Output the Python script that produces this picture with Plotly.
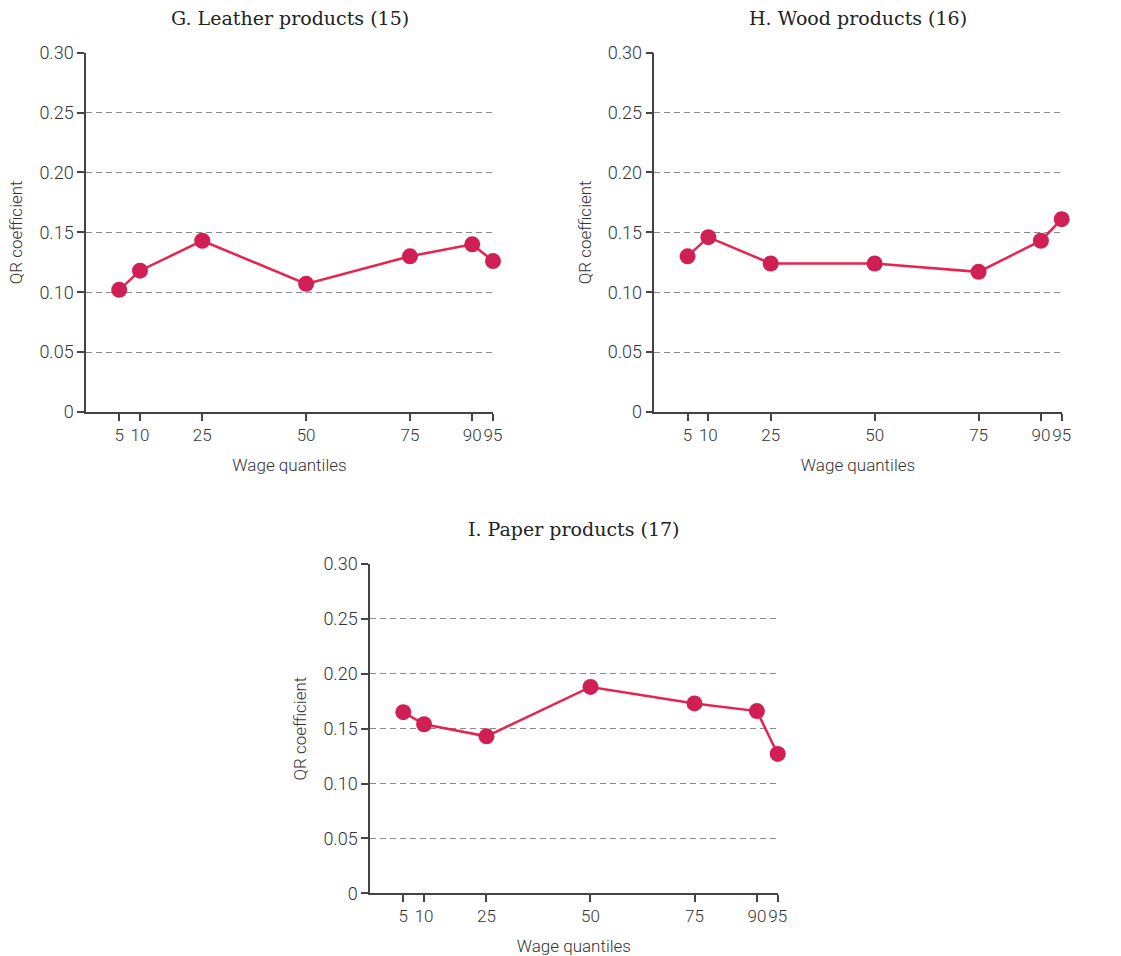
import plotly.graph_objects as go

W, H = 1121, 956

quantiles = [5, 10, 25, 50, 75, 90, 95]
tick_labels = ["5", "10", "25", "50", "75", "90", "95"]

leather = [0.102, 0.118, 0.143, 0.107, 0.130, 0.140, 0.126]
wood = [0.130, 0.146, 0.124, 0.124, 0.117, 0.143, 0.161]
paper = [0.165, 0.154, 0.143, 0.188, 0.173, 0.166, 0.127]

titles = ["G. Leather products (15)", "H. Wood products (16)", "I. Paper products (17)"]
series = [leather, wood, paper]

y_ticks = [0, 0.05, 0.10, 0.15, 0.20, 0.25, 0.30]
y_tick_text = ["0", "0.05", "0.10", "0.15", "0.20", "0.25", "0.30"]

# panel boxes in pixels: (x0, x1, ytop, ybottom)
boxes = [(86, 493, 52.7, 412), (654.3, 1061.7, 52.7, 412), (370, 777.7, 564, 893.3)]

LINE_COLOR = "#E8234E"
MARKER_COLOR = "#D01F55"
SANS = "Roboto, sans-serif"
SERIF = "DejaVu Serif, Liberation Serif, serif"
TXT = "#333333"

fig = go.Figure()
layout = dict(
    width=W, height=H,
    margin=dict(l=0, r=0, t=0, b=0),
    paper_bgcolor="white", plot_bgcolor="white",
    showlegend=False,
    annotations=[], shapes=[],
)

for i, (vals, title, box) in enumerate(zip(series, titles, boxes)):
    n = "" if i == 0 else str(i + 1)
    xa, ya = "x" + n, "y" + n
    x0, x1, yt, yb = box
    fig.add_trace(go.Scatter(
        x=quantiles, y=vals, mode="lines+markers",
        xaxis=xa, yaxis=ya,
        line=dict(color=LINE_COLOR, width=2.5),
        marker=dict(color=MARKER_COLOR, size=16),
        cliponaxis=False, hoverinfo="x+y",
    ))
    layout["xaxis" + n] = dict(
        domain=[x0 / W, x1 / W], anchor=ya, range=[-3, 95],
        tickmode="array", tickvals=quantiles, ticktext=tick_labels,
        tickangle=0, automargin=False,
        ticks="outside", ticklen=7, tickwidth=1.5, tickcolor="#444",
        showline=True, linecolor="#444", linewidth=1.5,
        showgrid=False, zeroline=False,
        tickfont=dict(family=SANS, size=17, color=TXT, weight=300),
        title=dict(text="Wage quantiles", font=dict(family=SANS, size=17, color=TXT, weight=300), standoff=15),
        fixedrange=True,
    )
    layout["yaxis" + n] = dict(
        domain=[1 - yb / H, 1 - yt / H], anchor=xa, range=[0, 0.30],
        tickmode="array", tickvals=y_ticks, ticktext=y_tick_text,
        automargin=False,
        ticks="outside", ticklen=7, tickwidth=1.5, tickcolor="#444",
        showline=True, linecolor="#444", linewidth=1.5,
        showgrid=True, gridcolor="#8a8a8a", gridwidth=1, griddash="6px,4px",
        zeroline=False,
        tickfont=dict(family=SANS, size=18, color=TXT, weight=300),
        title=dict(text="QR coefficient", font=dict(family=SANS, size=17, color=TXT, weight=300), standoff=12),
        fixedrange=True,
    )
    layout["annotations"].append(dict(
        text=title, xref="paper", yref="paper",
        x=(x0 + x1) / 2 / W, y=1 - (yt - 35) / H,
        xanchor="center", yanchor="middle", showarrow=False,
        font=dict(family=SERIF, size=19, color="#222"),
    ))

fig.update_layout(**layout)
fig.write_html("out.html")
